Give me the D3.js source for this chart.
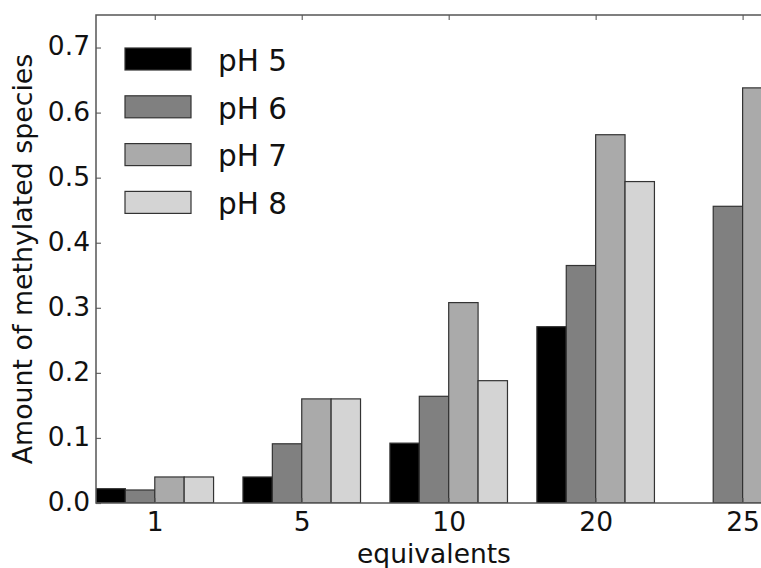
<!DOCTYPE html>
<html>
<head>
<meta charset="utf-8">
<script src="https://cdnjs.cloudflare.com/ajax/libs/d3/7.8.5/d3.min.js"></script>
<style>
  body { margin: 0; background: #fff; }
  svg { display: block; font-family: "DejaVu Sans", sans-serif; }
</style>
</head>
<body>
<div id="chart"></div>
<script>
// values
var categories = ["1", "5", "10", "20", "25"];
var seriesNames = ["pH 5", "pH 6", "pH 7", "pH 8"];
var ph5 = [0.022, 0.040, 0.092, 0.271, 0];
var ph6 = [0.020, 0.091, 0.164, 0.365, 0.456];
var ph7 = [0.040, 0.160, 0.308, 0.566, 0.638];
var ph8 = [0.040, 0.160, 0.188, 0.494, null];
var yTicks = [0, 0.1, 0.2, 0.3, 0.4, 0.5, 0.6, 0.7];

var series = [ph5, ph6, ph7, ph8];
var fills = ["#000000", "#808080", "#aaaaaa", "#d4d4d4"];

var W = 761, H = 568;
var margin = {left: 96, top: 15, right: 772, bottom: 503};
var barW = 0.2;

var x = d3.scaleLinear().domain([0, 4.6]).range([margin.left, margin.right]);
var y = d3.scaleLinear().domain([0, 0.75]).range([margin.bottom, margin.top]);

var svg = d3.select('#chart')
  .append('svg')
  .attr('width', W)
  .attr('height', H);

svg.append('defs').append('clipPath')
  .attr('id', 'plotclip')
  .append('rect')
  .attr('x', margin.left)
  .attr('y', margin.top)
  .attr('width', margin.right - margin.left)
  .attr('height', margin.bottom - margin.top);

var plot = svg.append('g').attr('clip-path', 'url(#plotclip)');

series.forEach(function (vals, j) {
  plot.selectAll('.bar' + j)
    .data(vals.map(function (v, i) { return {i: i, v: v}; })
      .filter(function (d) { return d.v !== null && d.v > 0; }))
    .enter().append('rect')
    .attr('class', 'bar' + j)
    .attr('x', function (d) { return x(d.i + j * barW); })
    .attr('y', function (d) { return y(d.v); })
    .attr('width', x(barW) - x(0))
    .attr('height', function (d) { return y(0) - y(d.v); })
    .attr('fill', fills[j])
    .attr('stroke', '#333')
    .attr('stroke-width', 1.2);
});

// axes (ticks pointing inwards, like the matplotlib classic style)
var tickVals = categories.map(function (c, i) { return i + 2 * barW; });

var xAxis = svg.append('g')
  .attr('transform', 'translate(0,' + margin.bottom + ')')
  .call(d3.axisBottom(x).tickValues(tickVals)
    .tickFormat(function (d, i) { return categories[i]; })
    .tickSizeInner(-5).tickSizeOuter(0).tickPadding(9));

var xTop = svg.append('g')
  .attr('transform', 'translate(0,' + margin.top + ')')
  .call(d3.axisTop(x).tickValues(tickVals).tickFormat('')
    .tickSizeInner(-5).tickSizeOuter(0));

var yAxis = svg.append('g')
  .attr('transform', 'translate(' + margin.left + ',0)')
  .call(d3.axisLeft(y).tickValues(yTicks).tickFormat(d3.format('.1f'))
    .tickSizeInner(-5).tickSizeOuter(0).tickPadding(6));

[xAxis, xTop, yAxis].forEach(function (a) {
  a.attr('font-family', null).attr('font-size', null);
  a.select('.domain').remove();
  a.selectAll('.tick line').attr('stroke', '#666').attr('stroke-width', 1.2);
  a.selectAll('text')
    .attr('fill', '#111')
    .style('font-family', '"DejaVu Sans", sans-serif')
    .style('font-size', '26.5px');
});
yAxis.selectAll('text').attr('dy', '0.28em');

// frame
svg.append('rect')
  .attr('x', margin.left)
  .attr('y', margin.top)
  .attr('width', margin.right - margin.left)
  .attr('height', margin.bottom - margin.top)
  .attr('fill', 'none')
  .attr('stroke', '#555')
  .attr('stroke-width', 1.5);

// axis labels
svg.append('text')
  .attr('x', (margin.left + margin.right) / 2)
  .attr('y', 563)
  .attr('text-anchor', 'middle')
  .style('font-size', '26.5px')
  .attr('fill', '#111')
  .text('equivalents');

svg.append('text')
  .attr('transform', 'translate(32,' + ((margin.top + margin.bottom) / 2) + ') rotate(-90)')
  .attr('text-anchor', 'middle')
  .style('font-size', '26.8px')
  .attr('fill', '#111')
  .text('Amount of methylated species');

// legend, no frame
var legend = svg.selectAll('.legend')
  .data(seriesNames)
  .enter().append('g')
  .attr('class', 'legend')
  .attr('transform', function (d, i) { return 'translate(125,' + (48 + i * 47.8) + ')'; });

legend.append('rect')
  .attr('width', 66)
  .attr('height', 22)
  .attr('fill', function (d, i) { return fills[i]; })
  .attr('stroke', '#333')
  .attr('stroke-width', 1.2);

legend.append('text')
  .attr('x', 93)
  .attr('y', 22.7)
  .style('font-size', '29.5px')
  .attr('fill', '#111')
  .text(function (d) { return d; });
</script>
</body>
</html>
